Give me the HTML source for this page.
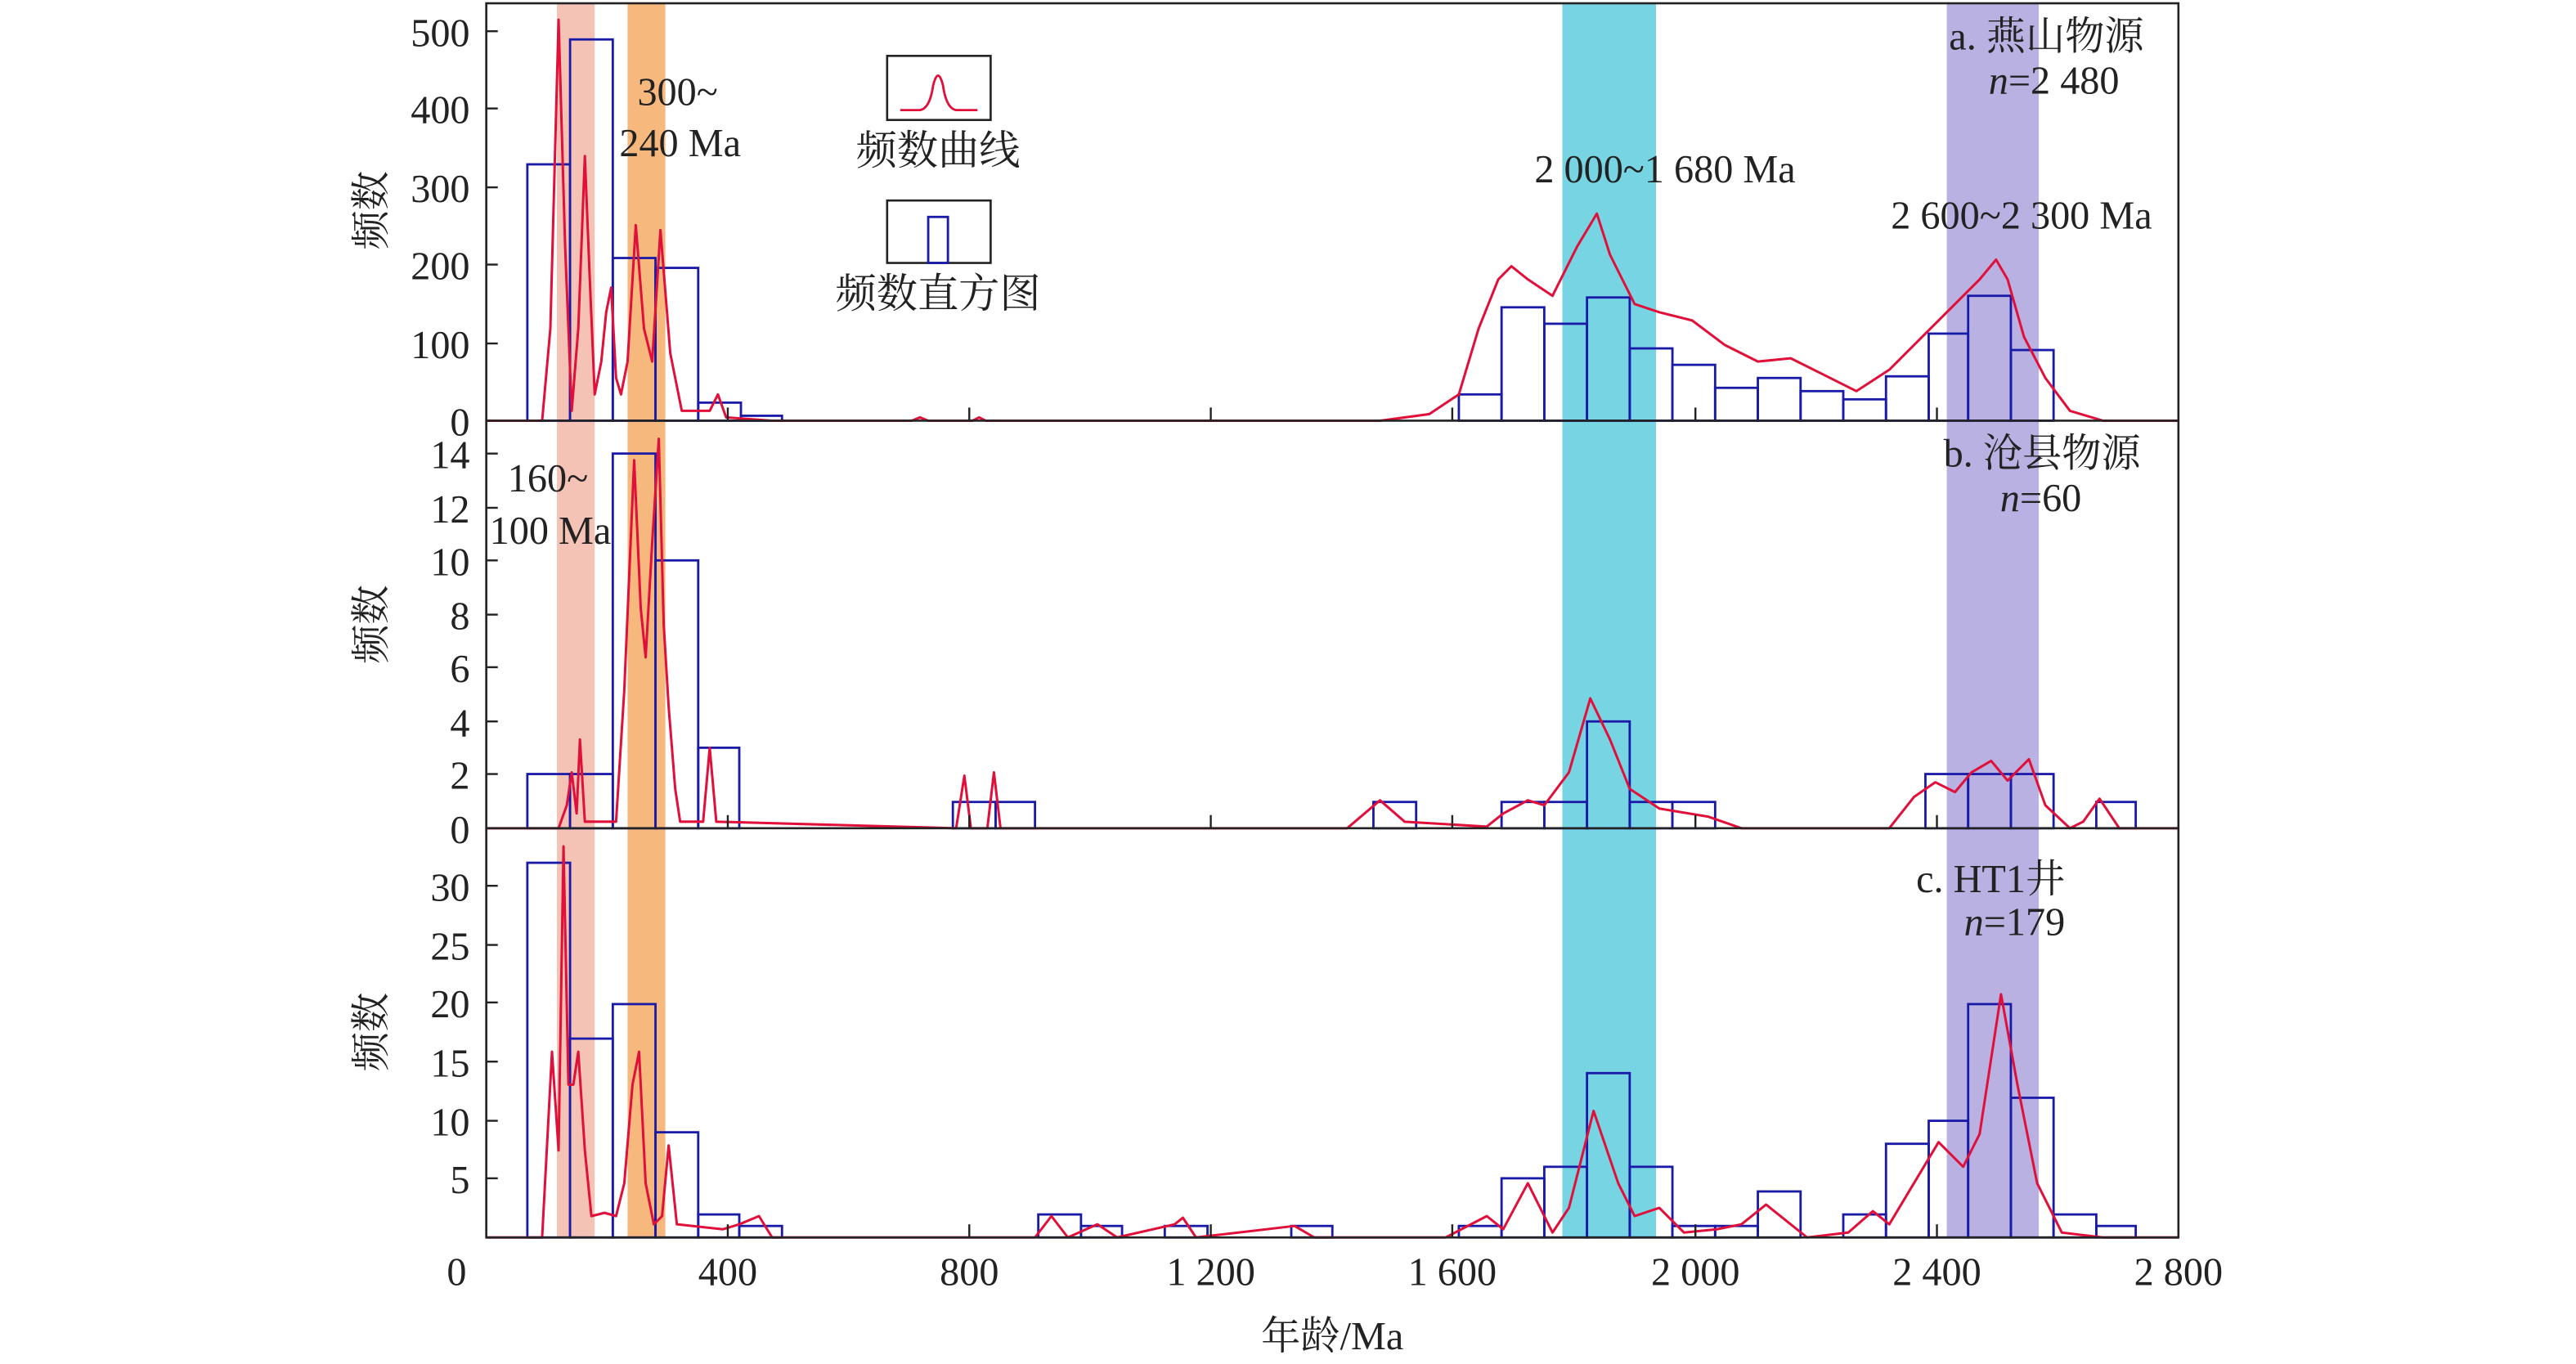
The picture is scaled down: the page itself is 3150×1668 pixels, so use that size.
<!DOCTYPE html>
<html><head><meta charset="utf-8"><style>
html,body{margin:0;padding:0;background:#fff}
svg{display:block}
text{font-family:"Liberation Serif","Noto Serif CJK SC","Noto Sans CJK SC",serif;fill:#222}
</style></head><body>
<svg width="3150" height="1668" viewBox="0 0 1568 830" preserveAspectRatio="none" xmlns="http://www.w3.org/2000/svg">
<rect width="1568" height="830" fill="#fff"/>
<rect x="339" y="2" width="23" height="751" fill="#f2b9a8" opacity="0.85"/>
<rect x="382" y="2" width="23" height="751" fill="#f6b070" opacity="0.9"/>
<rect x="951" y="2" width="57" height="751" fill="#68d0e0" opacity="0.9"/>
<rect x="1185" y="2" width="56" height="751" fill="#b0a8de" opacity="0.9"/>
<g fill="none" stroke="#1a1aa8" stroke-width="1.4">
<rect x="321" y="100" width="26" height="156"/><rect x="347" y="24" width="26" height="232"/>
<rect x="373" y="157" width="26" height="99"/><rect x="399" y="163" width="26" height="93"/>
<rect x="425" y="245" width="26" height="11"/><rect x="451" y="253" width="25" height="3"/>
<rect x="888" y="240" width="26" height="16"/><rect x="914" y="187" width="26" height="69"/>
<rect x="940" y="197" width="26" height="59"/><rect x="966" y="181" width="26" height="75"/>
<rect x="992" y="212" width="26" height="44"/><rect x="1018" y="222" width="26" height="34"/>
<rect x="1044" y="236" width="26" height="20"/><rect x="1070" y="230" width="26" height="26"/>
<rect x="1096" y="238" width="26" height="18"/><rect x="1122" y="243" width="26" height="13"/>
<rect x="1148" y="229" width="26" height="27"/><rect x="1174" y="203" width="24" height="53"/>
<rect x="1198" y="180" width="26" height="76"/><rect x="1224" y="213" width="26" height="43"/>
<rect x="321" y="471" width="26" height="33"/><rect x="347" y="471" width="26" height="33"/>
<rect x="373" y="276" width="26" height="228"/><rect x="399" y="341" width="26" height="163"/>
<rect x="425" y="455" width="25" height="49"/><rect x="580" y="488" width="26" height="16"/>
<rect x="606" y="488" width="24" height="16"/><rect x="836" y="488" width="26" height="16"/>
<rect x="914" y="488" width="26" height="16"/><rect x="940" y="488" width="26" height="16"/>
<rect x="966" y="439" width="26" height="65"/><rect x="992" y="488" width="26" height="16"/>
<rect x="1018" y="488" width="26" height="16"/><rect x="1172" y="471" width="26" height="33"/>
<rect x="1198" y="471" width="26" height="33"/><rect x="1224" y="471" width="26" height="33"/>
<rect x="1276" y="488" width="24" height="16"/>
<rect x="321" y="525" width="26" height="228"/><rect x="347" y="632" width="26" height="121"/>
<rect x="373" y="611" width="26" height="142"/><rect x="399" y="689" width="26" height="64"/>
<rect x="425" y="739" width="25" height="14"/><rect x="450" y="746" width="26" height="7"/>
<rect x="632" y="739" width="26" height="14"/><rect x="658" y="746" width="25" height="7"/>
<rect x="709" y="746" width="26" height="7"/><rect x="786" y="746" width="25" height="7"/>
<rect x="888" y="746" width="26" height="7"/><rect x="914" y="717" width="26" height="36"/>
<rect x="940" y="710" width="26" height="43"/><rect x="966" y="653" width="26" height="100"/>
<rect x="992" y="710" width="26" height="43"/><rect x="1018" y="746" width="26" height="7"/>
<rect x="1044" y="746" width="26" height="7"/><rect x="1070" y="725" width="26" height="28"/>
<rect x="1122" y="739" width="26" height="14"/><rect x="1148" y="696" width="26" height="57"/>
<rect x="1174" y="682" width="24" height="71"/><rect x="1198" y="611" width="26" height="142"/>
<rect x="1224" y="668" width="26" height="85"/><rect x="1250" y="739" width="26" height="14"/>
<rect x="1276" y="746" width="24" height="7"/>
</g>
<g fill="none" stroke="#e0103a" stroke-width="1.5" stroke-linejoin="round">
<polyline points="296,256 330,256 335,200 340,12 344,150 348,250 352,200 356,95 359,170 362,240 366,220 369,190 372,175 375,230 378,240 382,220 387,137 392,200 397,220 402,140 408,215 415,250 432,250 437,240 442,254 470,256 555,256 560,254 565,256 592,256 596,254 600,256 840,256 870,252 888,240 900,200 912,170 920,162 930,170 945,180 960,150 972,130 980,155 995,185 1010,190 1030,195 1050,210 1070,220 1090,218 1110,228 1130,238 1150,225 1170,205 1190,185 1205,170 1215,158 1222,170 1232,205 1245,230 1260,250 1280,256 1326,256"/>
<polyline points="296,504 340,504 345,490 348,470 351,495 353,450 356,500 375,500 380,420 386,280 390,370 393,400 397,330 401,267 404,380 407,430 411,480 414,500 428,500 432,455 436,500 582,504 587,472 591,504 601,504 605,470 609,504 820,504 840,487 855,500 905,503 915,495 930,487 940,490 955,470 968,425 980,450 992,480 1010,492 1040,497 1060,504 1150,504 1165,485 1178,476 1190,482 1200,470 1212,463 1222,475 1235,462 1245,490 1260,504 1268,500 1278,486 1290,504 1326,504"/>
<polyline points="296,753 330,753 336,640 340,700 343,515 346,660 349,660 352,640 356,700 360,740 368,738 375,740 380,720 385,660 389,640 393,720 398,745 403,740 407,697 412,745 440,748 450,745 462,740 470,753 630,753 640,740 650,753 668,745 680,753 715,745 720,741 728,753 788,746 800,753 880,753 905,740 915,748 930,720 945,750 955,735 970,676 985,720 995,740 1010,735 1025,750 1045,748 1060,745 1075,733 1090,745 1100,753 1125,750 1140,737 1150,745 1165,720 1180,695 1195,710 1205,690 1218,605 1228,660 1240,720 1255,750 1280,753 1326,753"/>
</g>
<g stroke="#222" stroke-width="1.3" fill="none">
<rect x="296" y="2" width="1030" height="751"/>
<line x1="296" y1="256" x2="1326" y2="256"/><line x1="296" y1="504" x2="1326" y2="504"/>
</g>
<g stroke="#222" stroke-width="1.2">
<line x1="296" y1="19" x2="303" y2="19"/><line x1="296" y1="66" x2="303" y2="66"/><line x1="296" y1="114" x2="303" y2="114"/><line x1="296" y1="161" x2="303" y2="161"/><line x1="296" y1="209" x2="303" y2="209"/>
<line x1="296" y1="276" x2="303" y2="276"/><line x1="296" y1="309" x2="303" y2="309"/><line x1="296" y1="341" x2="303" y2="341"/><line x1="296" y1="374" x2="303" y2="374"/><line x1="296" y1="406" x2="303" y2="406"/><line x1="296" y1="439" x2="303" y2="439"/><line x1="296" y1="471" x2="303" y2="471"/>
<line x1="296" y1="539" x2="303" y2="539"/><line x1="296" y1="575" x2="303" y2="575"/><line x1="296" y1="610" x2="303" y2="610"/><line x1="296" y1="646" x2="303" y2="646"/><line x1="296" y1="682" x2="303" y2="682"/><line x1="296" y1="717" x2="303" y2="717"/>
<line x1="443" y1="753" x2="443" y2="745"/><line x1="590" y1="753" x2="590" y2="745"/><line x1="737" y1="753" x2="737" y2="745"/><line x1="884" y1="753" x2="884" y2="745"/><line x1="1032" y1="753" x2="1032" y2="745"/><line x1="1179" y1="753" x2="1179" y2="745"/>
<line x1="443" y1="256" x2="443" y2="248"/><line x1="590" y1="256" x2="590" y2="248"/><line x1="737" y1="256" x2="737" y2="248"/><line x1="884" y1="256" x2="884" y2="248"/><line x1="1032" y1="256" x2="1032" y2="248"/><line x1="1179" y1="256" x2="1179" y2="248"/>
<line x1="443" y1="504" x2="443" y2="496"/><line x1="590" y1="504" x2="590" y2="496"/><line x1="737" y1="504" x2="737" y2="496"/><line x1="884" y1="504" x2="884" y2="496"/><line x1="1032" y1="504" x2="1032" y2="496"/><line x1="1179" y1="504" x2="1179" y2="496"/>
</g>
<g font-size="24" text-anchor="end">
<text x="286" y="28">500</text><text x="286" y="75">400</text><text x="286" y="123">300</text><text x="286" y="170">200</text><text x="286" y="218">100</text><text x="286" y="265">0</text>
<text x="286" y="285">14</text><text x="286" y="318">12</text><text x="286" y="350">10</text><text x="286" y="383">8</text><text x="286" y="415">6</text><text x="286" y="448">4</text><text x="286" y="480">2</text><text x="286" y="513">0</text>
<text x="286" y="548">30</text><text x="286" y="584">25</text><text x="286" y="619">20</text><text x="286" y="655">15</text><text x="286" y="691">10</text><text x="286" y="726">5</text>
</g>
<g font-size="24" text-anchor="middle">
<text x="278" y="782">0</text><text x="443" y="782">400</text><text x="590" y="782">800</text><text x="737" y="782">1 200</text><text x="884" y="782">1 600</text><text x="1032" y="782">2 000</text><text x="1179" y="782">2 400</text><text x="1326" y="782">2 800</text>
<text x="811" y="821">年龄/Ma</text>
</g>
<g font-size="24" text-anchor="middle">
<text transform="translate(234,128) rotate(-90)">频数</text>
<text transform="translate(234,380) rotate(-90)">频数</text>
<text transform="translate(234,628) rotate(-90)">频数</text>
</g>
<rect x="540" y="34" width="63" height="39" fill="none" stroke="#222" stroke-width="1.3"/>
<path d="M548,67 L560,67 Q566,66 568,52 Q571,40 574,52 Q576,66 582,67 L595,67" fill="none" stroke="#e0103a" stroke-width="1.4"/>
<text x="571" y="100" font-size="25" text-anchor="middle">频数曲线</text>
<rect x="540" y="122" width="63" height="38" fill="none" stroke="#222" stroke-width="1.3"/>
<rect x="565" y="132" width="12" height="28" fill="none" stroke="#1a1aa8" stroke-width="1.4"/>
<text x="571" y="187" font-size="25" text-anchor="middle">频数直方图</text>
<g font-size="24">
<text x="388" y="64">300~</text><text x="377" y="95">240 Ma</text>
<text x="309" y="299">160~</text><text x="298" y="331">100 Ma</text>
<text x="934" y="111">2 000~1 680 Ma</text>
<text x="1151" y="139">2 600~2 300 Ma</text>
<text x="1305" y="30" text-anchor="end">a. 燕山物源</text>
<text x="1290" y="57" text-anchor="end"><tspan font-style="italic">n</tspan>=2 480</text>
<text x="1303" y="284" text-anchor="end">b. 沧县物源</text>
<text x="1267" y="311" text-anchor="end"><tspan font-style="italic">n</tspan>=60</text>
<text x="1257" y="543" text-anchor="end">c. HT1井</text>
<text x="1257" y="569" text-anchor="end"><tspan font-style="italic">n</tspan>=179</text>
</g>
</svg>
</body></html>
